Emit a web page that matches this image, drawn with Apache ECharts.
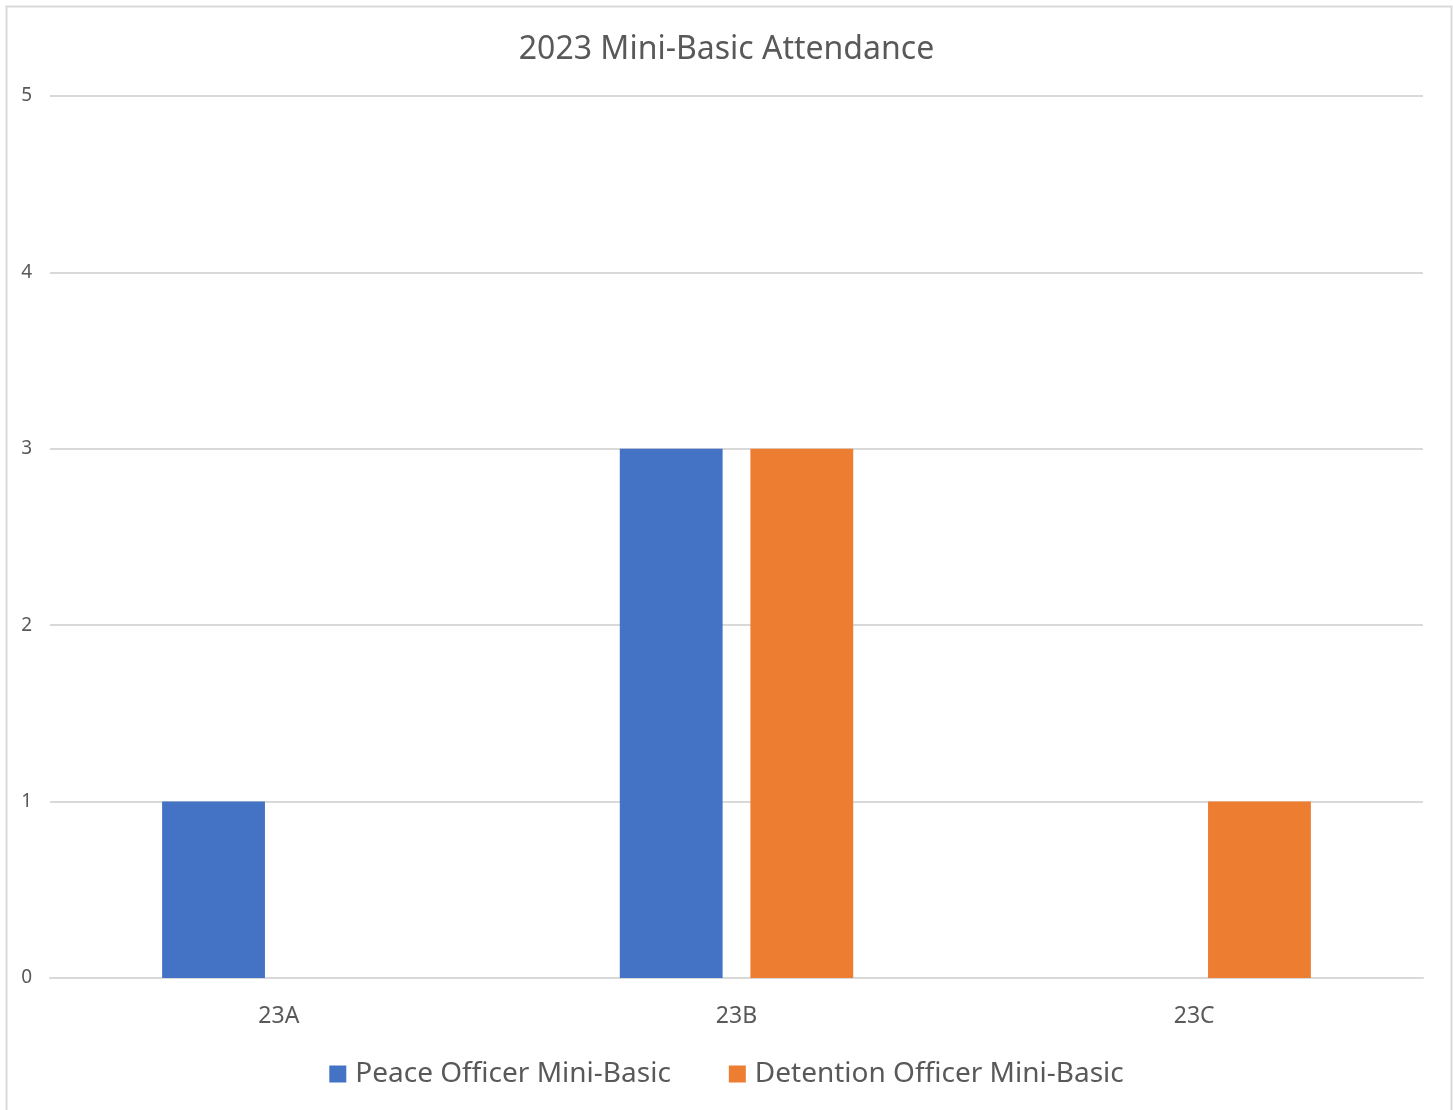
<!DOCTYPE html>
<html>
<head>
<meta charset="utf-8">
<script src="https://cdn.jsdelivr.net/npm/echarts@6/dist/echarts.min.js"></script>
<style>
html,body{margin:0;padding:0;background:#fff;}
#chart{width:1453px;height:1110px;}
</style>
</head>
<body>
<div id="chart"></div>
<script>
const categories = ['23A', '23B', '23C'];
const peaceOfficer = [1, 3, null];
const detentionOfficer = [null, 3, 1];
const seriesNames = ['Peace Officer Mini-Basic', 'Detention Officer Mini-Basic'];
const titleText = '2023 Mini-Basic Attendance';

const chart = echarts.init(document.getElementById('chart'), null, {renderer: 'canvas'});
const font = '"Noto Sans", "Open Sans", sans-serif';
chart.setOption({
  animation: false,
  backgroundColor: '#ffffff',
  graphic: [{
    type: 'rect', left: 4, top: 4,
    shape: {width: 1445, height: 1120},
    style: {fill: 'none', stroke: '#D9D9D9', lineWidth: 2}
  }],
  title: {
    text: titleText, left: 'center', top: 29,
    textStyle: {color: '#595959', fontSize: 32, fontWeight: 'normal', fontFamily: font}
  },
  legend: {
    data: seriesNames, bottom: 17, left: 'center',
    itemWidth: 17, itemHeight: 17, itemGap: 58,
    icon: 'rect',
    textStyle: {color: '#595959', fontSize: 28, fontFamily: font, padding: [0, 0, 0, 4]}
  },
  grid: {left: 50, right: 30, top: 96, bottom: 132, containLabel: false},
  xAxis: {
    type: 'category', data: categories,
    axisLine: {lineStyle: {color: '#D9D9D9', width: 2}},
    axisTick: {show: false},
    axisLabel: {color: '#595959', fontSize: 23, margin: 27, fontFamily: font}
  },
  yAxis: {
    type: 'value', min: 0, max: 5, interval: 1,
    axisLine: {show: false}, axisTick: {show: false},
    splitLine: {lineStyle: {color: '#D9D9D9', width: 2}},
    axisLabel: {color: '#595959', fontSize: 19, margin: 18, fontFamily: font}
  },
  series: [
    {name: seriesNames[0], type: 'bar', data: peaceOfficer, itemStyle: {color: '#4472C4'}, barGap: '27%', barCategoryGap: '49%'},
    {name: seriesNames[1], type: 'bar', data: detentionOfficer, itemStyle: {color: '#ED7D31'}}
  ]
});
</script>
</body>
</html>
